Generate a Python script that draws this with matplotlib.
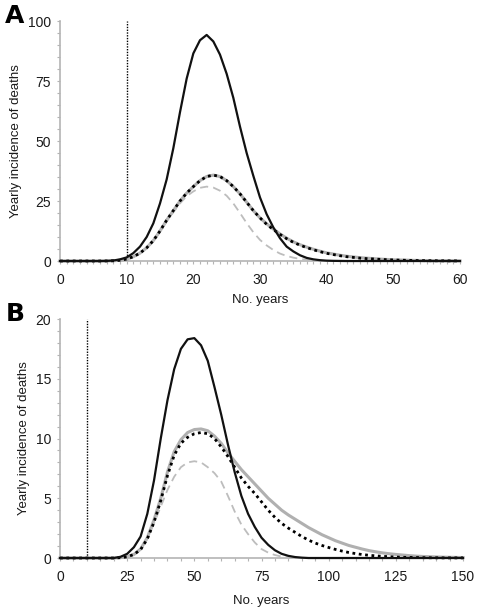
import numpy as np
import matplotlib
matplotlib.use('Agg')
from matplotlib import pyplot as plt
from matplotlib.ticker import MultipleLocator

plt.rcParams['font.family'] = ['Liberation Sans', 'DejaVu Sans']

# panel A : one value per year, 0..60
years_a = np.arange(0, 61)
black_a = [0, 0, 0, 0, 0, 0, 0, 0.05, 0.2, 0.7,
           1.5, 3.3, 6, 10, 15.7, 24, 34, 47, 62, 76,
           86.5, 92, 94.2, 91.5, 86, 78, 68, 56, 45, 35.5,
           26.5, 19.5, 14, 9.5, 6, 4, 2.4, 1.3, 0.7, 0.35,
           0.15, 0.07, 0.03, 0, 0, 0, 0, 0, 0, 0,
           0, 0, 0, 0, 0, 0, 0, 0, 0, 0, 0]
gray_a = [0, 0, 0, 0, 0, 0, 0, 0.02, 0.1, 0.3,
          0.8, 1.8, 3.3, 5.5, 8.5, 12.5, 17, 21, 25, 28.3,
          31, 33.5, 35.2, 35.8, 35.2, 33.5, 31, 28, 24.5, 21,
          18, 15.5, 13.3, 11.3, 9.5, 8, 6.8, 5.8, 4.9, 4.1,
          3.4, 2.9, 2.4, 2.0, 1.7, 1.4, 1.2, 1.0, 0.8, 0.65,
          0.5, 0.42, 0.35, 0.28, 0.22, 0.18, 0.14, 0.11, 0.09, 0.07, 0.05]
dotted_a = [0, 0, 0, 0, 0, 0, 0, 0.02, 0.1, 0.3,
            0.8, 1.8, 3.3, 5.5, 8.5, 12.5, 17, 21, 25, 28.3,
            31, 33.5, 35.2, 35.8, 35.2, 33.5, 31, 28, 24.5, 21,
            18, 15.3, 13.1, 11.1, 9.3, 7.8, 6.6, 5.6, 4.7, 3.9,
            3.2, 2.7, 2.2, 1.8, 1.5, 1.2, 1.0, 0.85, 0.7, 0.55,
            0.45, 0.36, 0.29, 0.23, 0.18, 0.14, 0.11, 0.09, 0.07, 0.05, 0.04]
dashed_a = [0, 0, 0, 0, 0, 0, 0, 0.02, 0.1, 0.3,
            0.8, 1.8, 3.3, 5.5, 8.4, 12.2, 16.5, 20.3, 24, 27,
            29, 30.5, 31, 30.6, 29.3, 27.2, 24, 20, 15.8, 12,
            8.8, 6.5, 4.6, 3.1, 2.1, 1.4, 0.9, 0.55, 0.3, 0.15,
            0.07, 0.03, 0, 0, 0, 0, 0, 0, 0, 0,
            0, 0, 0, 0, 0, 0, 0, 0, 0, 0, 0]

# panel B : every 2.5 years, 0..150
years_b = np.arange(0, 150.1, 2.5)
black_b = [0] * 9 + [0.1, 0.35, 0.9, 1.8, 3.7, 6.5, 10.0, 13.2, 15.8, 17.5,
                     18.3, 18.4, 17.8, 16.5, 14.3, 12.0, 9.5, 7.2, 5.2, 3.7,
                     2.6, 1.7, 1.1, 0.65, 0.35, 0.18, 0.08, 0.03] + [0] * 24
gray_b = [0] * 9 + [0.03, 0.1, 0.3, 0.75, 1.7, 3.2, 5.0, 7.2, 8.9, 9.9,
                    10.5, 10.75, 10.8, 10.65, 10.2, 9.6, 8.8, 8.1, 7.4, 6.8,
                    6.2, 5.6, 5.0, 4.5, 4.0, 3.6, 3.25, 2.9, 2.55, 2.25,
                    1.95, 1.7, 1.45, 1.25, 1.05, 0.9, 0.75, 0.62, 0.52, 0.43,
                    0.36, 0.3, 0.25, 0.2, 0.16, 0.13, 0.11, 0.09, 0.07, 0.06,
                    0.05, 0.04]
dotted_b = [0] * 9 + [0.03, 0.1, 0.3, 0.7, 1.6, 3.0, 4.8, 6.9, 8.6, 9.6,
                      10.1, 10.4, 10.5, 10.4, 10.0, 9.3, 8.5, 7.6, 6.7, 6.0,
                      5.4, 4.7, 4.0, 3.4, 2.9, 2.5, 2.15, 1.8, 1.5, 1.25,
                      1.05, 0.88, 0.72, 0.58, 0.46, 0.37, 0.29, 0.23, 0.18, 0.14,
                      0.11, 0.08, 0.06, 0.05, 0.04, 0.03, 0.02, 0.02, 0.01, 0.01,
                      0.01, 0.01]
dashed_b = [0] * 9 + [0.03, 0.1, 0.3, 0.7, 1.6, 2.9, 4.3, 5.7, 6.8, 7.6,
                      8.0, 8.1, 8.0, 7.6, 7.1, 6.4, 5.2, 3.9, 2.8, 2.0,
                      1.3, 0.75, 0.45, 0.25, 0.12, 0.05, 0.02] + [0] * 25

onset = 10
axis_gray = '#b4b4b4'


def draw_panel(ax, x, black, gray, dotted, dashed, xmax, ymax,
               xmaj, xmin, ymaj, ymin, xlabpad):
    ax.plot(x, gray, color='#b0b0b0', lw=2.2, zorder=3, clip_on=False)
    ax.plot(x, dashed, color='#bdbdbd', lw=1.3, linestyle=(0, (4.5, 2.8)),
            zorder=4, clip_on=False)
    ax.plot(x, dotted, color='black', lw=2.0, linestyle=(0, (1, 1.3)),
            dash_capstyle='butt', zorder=5, clip_on=False)
    ax.plot(x, black, color='#111111', lw=1.6, zorder=6, clip_on=False)
    ax.plot([onset, onset], [0, ymax], color='black', lw=1.0,
            linestyle=(0, (1, 1)), zorder=2)

    ax.set_xlim(0, xmax)
    ax.set_ylim(0, ymax)
    ax.xaxis.set_major_locator(MultipleLocator(xmaj))
    ax.xaxis.set_minor_locator(MultipleLocator(xmin))
    ax.yaxis.set_major_locator(MultipleLocator(ymaj))
    ax.yaxis.set_minor_locator(MultipleLocator(ymin))
    for s in ['top', 'right']:
        ax.spines[s].set_visible(False)
    for s in ['left', 'bottom']:
        ax.spines[s].set_color(axis_gray)
        ax.spines[s].set_linewidth(1.2)
    ax.tick_params(which='both', direction='out', color=axis_gray,
                   width=0.8, labelsize=10, labelcolor='#1a1a1a')
    ax.tick_params(which='major', length=2.5)
    ax.tick_params(which='minor', length=2.2)
    ax.tick_params(axis='y', which='major', pad=4)
    ax.tick_params(axis='x', which='major', pad=6)
    ax.set_xlabel('No. years', fontsize=9.5, labelpad=xlabpad, color='#1a1a1a')
    ax.set_ylabel('Yearly incidence of deaths', fontsize=9.5, labelpad=4,
                  color='#1a1a1a')


fig = plt.figure(figsize=(4.8, 6.13), dpi=100)
ax_a = fig.add_axes([0.125, 0.5742, 0.8333, 0.3915])
ax_b = fig.add_axes([0.125, 0.0897, 0.8396, 0.3899])

draw_panel(ax_a, years_a, black_a, gray_a, dotted_a, dashed_a,
           60, 100, 10, 1, 25, 5, 5)
draw_panel(ax_b, years_b, black_b, gray_b, dotted_b, dashed_b,
           150, 20, 25, 5, 5, 1, 8)

fig.text(5 / 480, 1 - 4 / 613, 'A', fontsize=18, fontweight='heavy',
         family='DejaVu Sans', ha='left', va='top')
fig.text(6 / 480, 1 - 302 / 613, 'B', fontsize=18, fontweight='heavy',
         family='DejaVu Sans', ha='left', va='top')

fig.savefig('out.png', dpi=100)
